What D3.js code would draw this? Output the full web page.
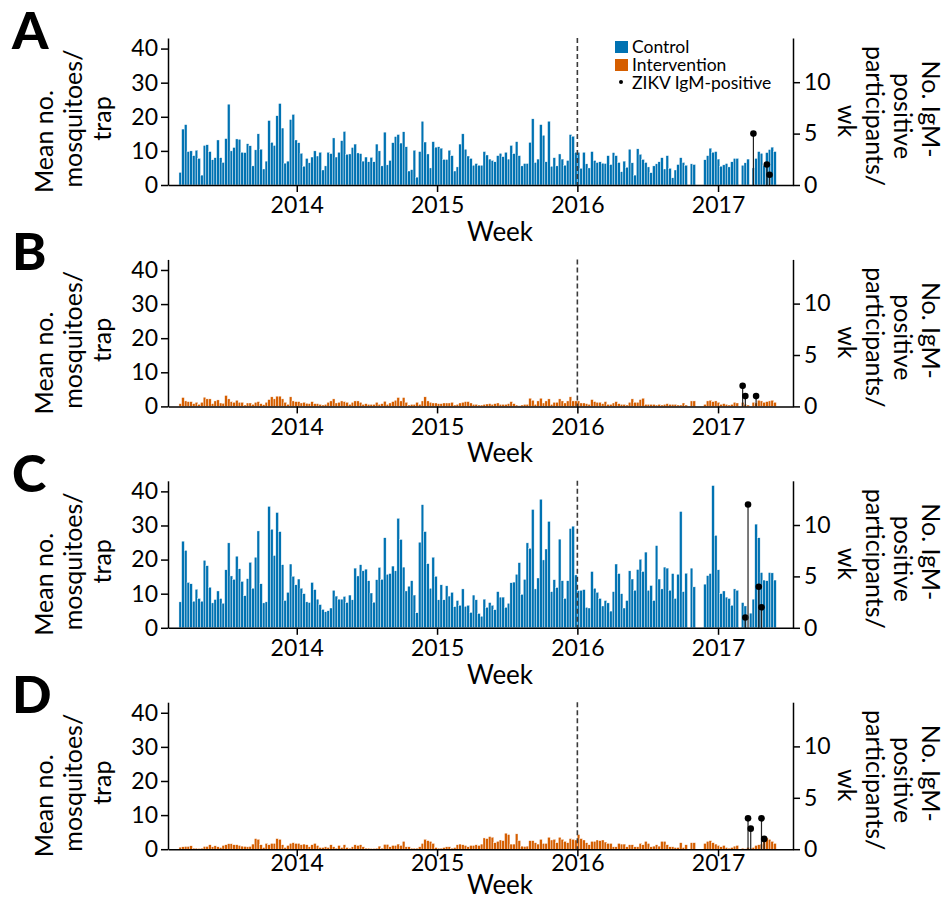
<html>
<head>
<script src='https://d3js.org/d3.v7.min.js'></script>
<style>
body { margin: 0; background: white; }
text { font-family: Lato, "Open Sans", sans-serif; fill: black; }
.tick text { font-size: 23px; }
.tick line, .domain { stroke: black; stroke-width: 1.5; }
</style>
</head>
<body>
<svg width=948 height=909></svg>
<script>

// weekly trap data, one value per week starting Monday 2013-03-04 (null = no trapping)
var firstWeek = new Date(2013, 2, 4);
var lastWeek = new Date(2017, 4, 30);

var controlA = [3.7,16.4,17.7,9.8,10,8.6,10.2,7.8,2.9,11.6, 11.8,9.8,7.4,8,13.2,8,6.6,13.6,23.7,10,
  11,13.5,13.4,9.6,9.5,12.1,11.5,5.6,10.3,15, 10.5,4.7,7,18.9,12.5,11.6,20.3,23.9,16.7,6.4,
  7,19.2,20.7,13.2,12.4,9.3,5.5,7.8,6.5,8.2, 10,8.5,9.6,4.4,5.6,9.6,9.2,13.8,8.2,9.6,
  13,15.7,9,9.1,11,12,9.4,9.2,7,8.2, 6.8,8.1,6.8,12,10,5.6,15.5,5.9,7.2,12.4,
  14.2,14.8,12.3,15.6,11.2,4.1,4.5,10.2,2.3,9.8, 18.7,12.6,9.1,5,12.7,11.1,11.2,10.8,7.5,7.5,
  10.2,8.6,4.1,5.3,12,15,10.5,8.5,7.8,5.8, 6.3,5.8,
  5.8,9.8,8.8,7.6,7.2,6.8,8.6,9.3,8.3,9.6, 7.6,11.6,9.2,12.7,8.6,5.6,6.3,6.3,12.5,19.4,
  6.6,7.6,17.7,14.6,6.8,18.7,5.5,8,5.6,9.1, 7.6,5.8,7.2,14.8,14.3,9.6,9.6,4.9,9.6,6.2,
  5,9.8,7.2,6.6,6.8,6.4,6.3,8.6,6, 9.5,8.6,6.6,3.9,7,5.2,10.5,6.5,2.9,10.6,
  9,7.5,6.6,5.3,3.6,5.6,6.2,6.8,8,4.7, 8.6,4.9,2.1,4.4,6,8,6.6,5.8,
  null,6.2,6,null,null,null,
  7.4,8.6,10.8,9.6,9.8,7.6,5.5,5.9,6.3,5.3,6.8,7.8,7.8,
  null,5.8,6.5,7.6,null,
  5,7.8,9.8,9.3,5.8,9.5,10.4,11.1,9.8];

var interventionB = [0.8,2.6,1.6,1.4,1.4,0.8,1.2,0.6,1.2,2.7, 2.2,2.2,0.8,1.6,1.9,1,0.9,3.2,2.2,1.4,
  1.2,1.8,1.2,1.2,0.4,1,1,0.6,1.2,1.4, 0.8,0.5,1.2,2,2.8,2.2,3,3,2.2,1.2,
  0.6,2.8,1.6,1.4,1.4,1,1.2,0.9,0.8,1.4, 0.8,0.8,0.6,0.4,0.6,1.2,1.6,2.2,1,1.2,
  1.6,1.4,1.2,0.6,1.2,1.6,1.6,1.2,0.6,0.8, 0.6,0.6,0.6,1.2,0.6,0.8,1.5,0.6,1,1.4,
  1.8,2.6,1.6,2.6,1.2,0.4,0.6,0.6,1.2,0.6, 1.6,2.8,1.6,1.2,1,1,0.8,0.8,1,1,
  1,1.2,0.4,0.6,1,1.2,1.4,1.4,1,0.6, 0.6,0.4,
  0.4,0.6,0.7,0.8,0.6,0.8,1,0.6,0.6,0.6, 0.8,1.4,0.8,0.4,0.2,0.4,0.6,0.6,2.4,1.8,
  0.6,1.6,2.4,1,1.6,2.2,0.6,1.2,1.2,2.2, 1.6,1,1.6,2.8,1.6,1.6,1.6,1,1,0.8,
  0.6,2,1.4,1.2,1.2,0.8,1.4,0.6,0.6,1, 1.4,0.8,0.6,0.6,0.4,1.2,2.2,1.2,1.2,2,
  2.4,0.6,0.6,0.6,0.6,0.4,0.6,0.4,0.6,0.8, 0.6,0.6,0.6,0.4,0.4,1,0.4,
  null,1.6,1.6,null,null,null,
  0.6,1.6,1.8,1.4,1.6,1.2,0.6,0.8,0.6,0.4,0.6,1.2,1,
  null,1.2,0.6,0.4,null,
  1.2,1,1.8,1.6,1.2,1.4,1.6,1.8,1.2];

var controlC = [7.6,25.4,22.7,13.3,12.9,7.8,11.3,8.6,7.8,19.8, 18.2,11.9,7.3,8.3,10.8,8.6,7.2,17,24.9,15.2,
  14.2,21,17.3,13.6,9.4,14.4,19.2,11.6,20.7,28.4, 12.9,7.3,7.6,35.6,28.9,21.2,33.8,28.2,18.5,8,
  10.4,18.7,15.1,12.6,14.3,11.6,10,7.6,7.4,13.3, 11.2,8.4,6.8,5.4,4.7,5,5.8,11,9.3,8.4,
  8.4,9.2,7.4,9.6,8.2,17.5,15.2,18.5,16.7,17.2, 13.8,10.2,7.5,14.1,17.7,14.2,26.4,15.7,15.9,18.1,
  16.7,32.1,25.9,17.8,10.8,12.2,13.8,9.6,4.4,25.1, 36.1,28.2,18.8,11.6,20.7,15.1,8.2,12.6,8.2,12.3,
  9.3,10.4,6.2,8,6.6,11.4,6.3,6.6,4.5,9.6, 8.2,4.2,
  3.4,8.4,
  6,7.4,6.6,5.3,10.6,9,9,6,7.2,13.2, 13.4,15.7,19.1,9.8,14.2,24.9,23.3,34.7,11.4,14.6,
  37.7,19.9,23.1,31.2,10.6,14.1,11.8,26,13.8,8.6, 13.8,29.1,29.8,15.5,10.9,11,11.2,6,5.8,16.5,
  11.6,10.4,8.6,6.4,8,7.3,4.9,10.6,18.7,15.9, 10,5.8,8,16.7,14.3,11,17.1,20.1,16.5,22.2,
  11,12.4,8,24.1,14.3,11.4,17.8,17.5,11,15.9, 8.6,15.7,34.1,10.6,16,
  null,17.5,12,null,null,null,
  12.8,15.3,15.9,41.7,27.1,17,10,10.8,9,8.6,6.6,11.4,11,
  null,7.4,6.4,null,4.3,
  8.4,30.4,26.4,16.2,14,13.8,16.2,16.1,14];

var interventionD = [0.6,0.7,0.8,0.8,1,0.3,0.3,0.2,0.3,0.8, 0.8,1.3,0.7,1,0.7,0.5,1.1,1.3,1.6,1.6,
  1.3,1.3,1.1,0.9,0.8,0.7,0.8,1.5,3.1,2.9, 1.3,0.5,1.7,1.3,1.7,1.7,3.1,2.9,1.3,0.5,
  1.1,1.7,1.9,1.7,1.7,1.3,1.5,1.3,0.7,1.3, 1.7,1.1,0.5,0.5,0.7,0.5,1.3,0.7,0.3,1.1,
  0.5,1.3,0.5,0.3,0.7,1.3,1.1,1.3,0.7,0.3, 0.3,0.2,0.2,0.3,0.9,0.3,1.4,1.4,0.7,1.1,
  1.1,1.5,1.1,2.3,0.7,0.7,0.3,0.3,0.3,0.7, 1.7,2.9,2.5,2.3,1.7,0.5,0.3,0.3,0.5,0.7,
  0.7,0.3,0.5,1.3,1.5,1.3,1.1,0.7,1.1,1.1, 1.3,1.1,
  1.5,3.3,3.1,3.7,3.5,1.9,2.3,2.7,2.5,4.7, 4.3,1.5,1.5,4.5,2.5,0.9,0.8,0.9,2.5,2.5,
  1.9,1.5,2.9,1.7,1.7,3.5,2.7,2.9,1.9,3.5, 2.9,2.3,1.9,3.1,2.9,2.7,4.3,3.1,2.7,1.9,
  1.3,2.3,2.3,2.7,2.5,2.7,2.1,1.7,1.7,0.7, 0.7,1.7,1.5,1.5,0.7,1.3,1.3,0.7,0.7,
  1.7,1.3,2.3,1.7,0.7,0.9,1.3,0.9,2.3,2.3, 1.3,0.7,0.7,0.5,0.5,1.9,0.5,1.3,
  null,1.9,1.9,null,null,null,
  1.7,2.3,2.5,1.9,1.5,1.1,0.7,1.1,0.5,0.3,0.5,0.9,1.1,
  null,0.3,0.1,0.5,0.3,
  0.5,1.1,1.3,1.5,3.1,3.3,2.9,2.3,1.7];

// ZIKV IgM-positive participants per week
var igmA = [["2017-04-03",5],["2017-05-08",2],["2017-05-15",1]];
var igmB = [["2017-03-06",2],["2017-03-13",1],["2017-04-10",1]];
var igmC = [["2017-03-13",1],["2017-03-20",12],["2017-04-17",4],["2017-04-24",2]];
var igmD = [["2017-03-20",3],["2017-03-27",2],["2017-04-24",3],["2017-05-01",1]];

var panelLetters = ["A","B","C","D"];
var yTicks = [0,10,20,30,40];
var igmTicks = [0,5,10];
var yearTicks = [2014,2015,2016,2017];
var legendLabels = ["Control","Intervention","ZIKV IgM-positive"];

var blue = "#0072b2", orange = "#d55e00";
var panels = [
  {letter: panelLetters[0], values: controlA, color: blue, igm: igmA},
  {letter: panelLetters[1], values: interventionB, color: orange, igm: igmB},
  {letter: panelLetters[2], values: controlC, color: blue, igm: igmC},
  {letter: panelLetters[3], values: interventionD, color: orange, igm: igmD}
];

var weeks = d3.timeMonday.range(firstWeek, lastWeek);
var parse = d3.timeParse("%Y-%m-%d");

var left = 168, right = 793, ph = 147;
var x = d3.scaleTime().domain([new Date(2013,0,31), new Date(2017,6,15)]).range([left, right]);
var bw = x(new Date(2013,2,11)) - x(new Date(2013,2,4));

var svg = d3.select("svg");

function drawPanel(p, k) {
  var top = 38 + k * 221.4;
  var last = (k == panels.length - 1);  // bottom panel has its x labels squeezed up
  var y = d3.scaleLinear().domain([0, 43.1]).range([top + ph, top]);
  var y2 = d3.scaleLinear().domain([0, 14.3]).range([top + ph, top]);
  var g = svg.append("g");

  // bars
  var rows = d3.zip(weeks, p.values).filter(function(d) { return d[1] != null; });
  g.selectAll("rect").data(rows).enter().append("rect")
    .attr("x", function(d) { return x(d[0]) - bw / 2; })
    .attr("y", function(d) { return y(d[1]); })
    .attr("width", bw)
    .attr("height", function(d) { return y(0) - y(d[1]); })
    .attr("fill", p.color)
    .attr("stroke", "white")
    .attr("stroke-width", 0.4);

  // start of intervention
  var xd = x(new Date(2016,0,1));
  g.append("line")
    .attr("x1", xd).attr("x2", xd).attr("y1", top).attr("y2", top + ph)
    .attr("stroke", "#3a3a3a").attr("stroke-width", 1.6).attr("stroke-dasharray", "5,3");

  // IgM stems
  var st = g.selectAll("g.stem").data(p.igm).enter().append("g").attr("class", "stem");
  st.append("line")
    .attr("x1", function(d) { return x(parse(d[0])); })
    .attr("x2", function(d) { return x(parse(d[0])); })
    .attr("y1", y2(0))
    .attr("y2", function(d) { return y2(d[1]); })
    .attr("stroke", "#222").attr("stroke-width", 1.2);
  st.append("circle")
    .attr("cx", function(d) { return x(parse(d[0])); })
    .attr("cy", function(d) { return y2(d[1]); })
    .attr("r", 3.3)
    .attr("fill", "black");

  // axes
  g.append("g")
    .attr("transform", "translate(" + left + ",0)")
    .call(d3.axisLeft(y).tickValues(yTicks).tickSize(7).tickPadding(3).tickSizeOuter(0));
  g.append("g")
    .attr("transform", "translate(" + right + ",0)")
    .call(d3.axisRight(y2).tickValues(igmTicks).tickSize(7).tickPadding(4).tickSizeOuter(0));
  g.append("g")
    .attr("transform", "translate(0," + (top + ph) + ")")
    .call(d3.axisBottom(x)
      .tickValues(yearTicks.map(function(yr) { return new Date(yr,0,1); }))
      .tickFormat(d3.timeFormat("%Y")).tickSize(7).tickPadding(last ? -2 : 5).tickSizeOuter(0));

  // labels
  g.append("text").attr("x", 12).attr("y", top + 11)
    .style("font-size", "52px").style("font-weight", 900).text(p.letter);

  g.append("text").attr("x", 500).attr("y", top + ph + (last ? 45 : 56))
    .attr("text-anchor", "middle").style("font-size", "26px").text("Week");

  g.append("text").attr("transform", "translate(53," + (top + 155) + ") rotate(-90)")
    .style("font-size", "25px").text("Mean no.");
  g.append("text").attr("transform", "translate(82," + (top + 80.5) + ") rotate(-90)")
    .attr("text-anchor", "middle").style("font-size", "25px").text("mosquitoes/");
  g.append("text").attr("transform", "translate(111," + (top + 80.5) + ") rotate(-90)")
    .attr("text-anchor", "middle").style("font-size", "25px").text("trap");

  var rl = [["No. IgM-", 922, 71], ["positive", 894, 78], ["participants/", 866, 78], ["wk", 838, 83]];
  rl.forEach(function(r) {
    g.append("text").attr("transform", "translate(" + r[1] + "," + (top + r[2]) + ") rotate(90)")
      .attr("text-anchor", "middle").style("font-size", "25px").text(r[0]);
  });
}

panels.forEach(drawPanel);

// legend (panel A)
var lg = svg.append("g");
lg.append("rect").attr("x", 615).attr("y", 41).attr("width", 13).attr("height", 12).attr("fill", blue);
lg.append("rect").attr("x", 615).attr("y", 59).attr("width", 13).attr("height", 12).attr("fill", orange);
lg.append("circle").attr("cx", 621).attr("cy", 82).attr("r", 2).attr("fill", "black");
lg.selectAll("text.leg").data(legendLabels).enter().append("text")
  .attr("class", "leg")
  .attr("x", 632)
  .attr("y", function(d, i) { return 53 + i * 18; })
  .style("font-size", "17.5px")
  .text(function(d) { return d; });

</script>
</body>
</html>
